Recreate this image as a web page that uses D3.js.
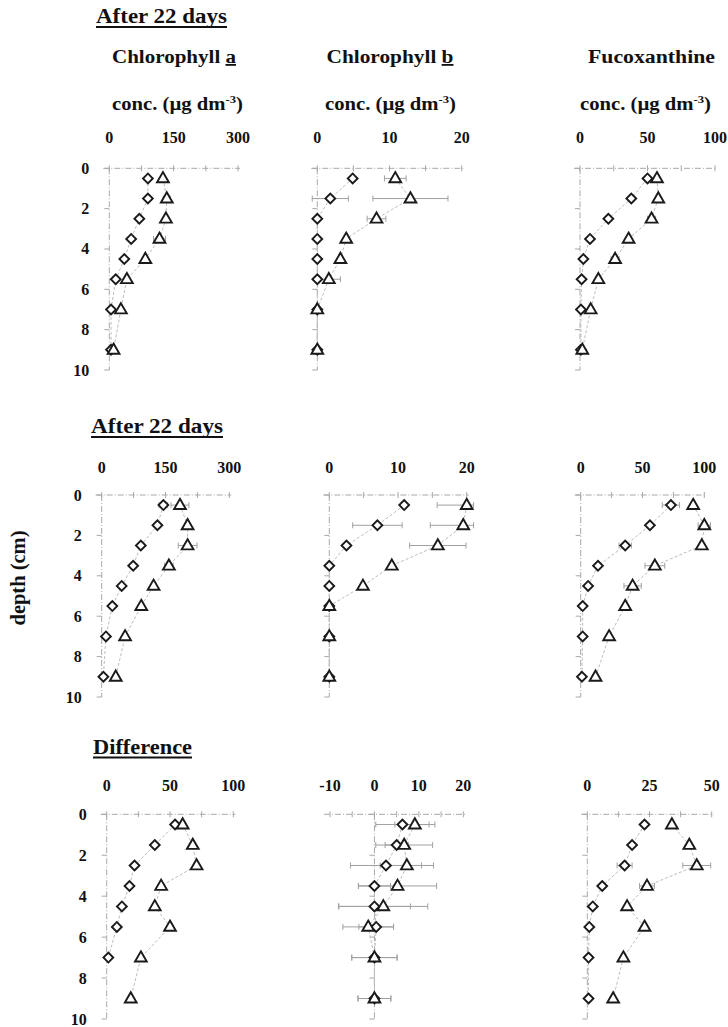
<!DOCTYPE html>
<html><head><meta charset="utf-8">
<script src="https://cdn.jsdelivr.net/npm/d3@7"></script>
<style>
html,body{margin:0;padding:0;background:#fff;}
text{font-family:"Liberation Serif","Tinos","Times New Roman",serif;font-weight:bold;fill:#111;}
</style></head>
<body><svg id="chart" width="728" height="1027"></svg>
<script>
// ---------------- DATA ----------------
const depths = [0.5, 1.5, 2.5, 3.5, 4.5, 5.5, 7, 9];
const depthTicks = [0, 2, 4, 6, 8, 10];
const rowTitles = ["After 22 days", "After 22 days", "Difference"];
const pigments = ["Chlorophyll ", "Chlorophyll ", "Fucoxanthine"];
const pigmentSuffix = ["a", "b", ""];

// Row 1
const chlA_r1_diamond  = [90, 90, 70, 51, 35, 15, 4, 4];
const chlA_r1_triangle = [125, 134, 132, 117, 84, 41, 27, 10];
const chlA_r1_errD     = [0, 0, 0, 0, 0, 0, 0, 0];
const chlA_r1_errT     = [0, 8, 0, 14, 0, 0, 0, 0];
const chlB_r1_diamond  = [4.9, 1.8, 0, 0, 0, 0, 0, 0];
const chlB_r1_triangle = [10.8, 12.9, 8.2, 4.0, 3.2, 1.6, 0, 0];
const chlB_r1_errD     = [0, 2.5, 0, 0, 0, 0, 0, 0];
const chlB_r1_errT     = [1.5, 5.2, 1.3, 0, 0, 1.6, 0, 0];
const fuco_r1_diamond  = [50, 38, 21, 7.4, 2.5, 1.2, 0.7, 0.7];
const fuco_r1_triangle = [57, 58, 53, 36, 26, 13.6, 7.9, 1.7];
const fuco_r1_errD     = [0, 0, 0, 0, 0, 0, 0, 0];
const fuco_r1_errT     = [0, 0, 3, 0, 3, 0, 0, 0];
// Row 2
const chlA_r2_diamond  = [145, 131, 92, 74, 47, 25, 10, 4];
const chlA_r2_triangle = [184, 202, 202, 158, 122, 93, 55, 33];
const chlA_r2_errD     = [10, 0, 0, 0, 0, 0, 0, 0];
const chlA_r2_errT     = [21, 0, 22, 10, 0, 0, 6, 0];
const chlB_r2_diamond  = [10.9, 7.0, 2.5, 0, 0, 0, 0, 0];
const chlB_r2_triangle = [20, 19.5, 15.8, 9.1, 4.9, 0, 0, 0];
const chlB_r2_errD     = [0, 3.6, 0, 0, 0, 0, 0, 0];
const chlB_r2_errT     = [4.3, 4.8, 4.1, 0, 0, 0, 0, 0];
const fuco_r2_diamond  = [73, 56, 36, 14, 6, 1.6, 1.6, 1];
const fuco_r2_triangle = [91, 100, 98, 60, 42, 36, 23, 12];
const fuco_r2_errD     = [7, 0, 5, 0, 0, 0, 0, 0];
const fuco_r2_errT     = [0, 5, 0, 8, 7, 0, 0, 0];
// Row 3 (difference)
const chlA_d_diamond   = [54, 38, 22, 18, 12, 8, 1.3, null];
const chlA_d_triangle  = [60, 68, 71, 43, 38, 50, 27, 19];
const chlA_d_errD      = [0, 0, 0, 0, 0, 0, 0, 0];
const chlA_d_errT      = [0, 0, 0, 0, 0, 0, 0, 0];
const chlB_d_diamond   = [6.3, 5.0, 2.6, 0, 0, 0.4, 0, 0];
const chlB_d_triangle  = [9.1, 6.7, 7.3, 5.2, 2.0, -1.4, 0, 0];
const chlB_d_errD      = [6, 2.6, 8, 3.6, 8.1, 3.9, 5.1, 3.7];
const chlB_d_errT      = [4.5, 6.4, 6, 8.8, 10, 5.7, 5.1, 3.7];
const fuco_d_diamond   = [23, 18, 15, 6, 2.2, 0.8, 0.5, 0.5];
const fuco_d_triangle  = [34, 41, 44, 24, 16, 23, 14.5, 10.4];
const fuco_d_errD      = [0, 0, 3, 0, 0, 0, 0, 0];
const fuco_d_errT      = [0, 0, 5.6, 3, 0, 0, 0, 0];

const ticksChlA = [0, 150, 300];
const ticksChlB = [0, 10, 20];
const ticksFuco = [0, 50, 100];
const ticksDiffA = [0, 50, 100];
const ticksDiffB = [-10, 0, 10, 20];
const ticksDiffF = [0, 25, 50];

// ---------------- PANELS (data + layout) ----------------
const panels = [
  {row:0, col:0, d:chlA_r1_diamond, t:chlA_r1_triangle, ed:chlA_r1_errD, et:chlA_r1_errT, ticks:ticksChlA, xr:[109.3, 238]},
  {row:0, col:1, d:chlB_r1_diamond, t:chlB_r1_triangle, ed:chlB_r1_errD, et:chlB_r1_errT, ticks:ticksChlB, xr:[317.3, 461.7]},
  {row:0, col:2, d:fuco_r1_diamond, t:fuco_r1_triangle, ed:fuco_r1_errD, et:fuco_r1_errT, ticks:ticksFuco, xr:[580, 715]},
  {row:1, col:0, d:chlA_r2_diamond, t:chlA_r2_triangle, ed:chlA_r2_errD, et:chlA_r2_errT, ticks:ticksChlA, xr:[101.7, 229.3]},
  {row:1, col:1, d:chlB_r2_diamond, t:chlB_r2_triangle, ed:chlB_r2_errD, et:chlB_r2_errT, ticks:ticksChlB, xr:[329.3, 466.7]},
  {row:1, col:2, d:fuco_r2_diamond, t:fuco_r2_triangle, ed:fuco_r2_errD, et:fuco_r2_errT, ticks:ticksFuco, xr:[580.7, 704.3]},
  {row:2, col:0, d:chlA_d_diamond, t:chlA_d_triangle, ed:chlA_d_errD, et:chlA_d_errT, ticks:ticksDiffA, xr:[106.7, 233.3]},
  {row:2, col:1, d:chlB_d_diamond, t:chlB_d_triangle, ed:chlB_d_errD, et:chlB_d_errT, ticks:ticksDiffB, xr:[330, 463.3]},
  {row:2, col:2, d:fuco_d_diamond, t:fuco_d_triangle, ed:fuco_d_errD, et:fuco_d_errT, ticks:ticksDiffF, xr:[587.3, 711.7]}
];
const rowY = [[168.3, 370], [495, 697], [814.3, 1019]];
const rowTickBase = [142.7, 472.7, 791];
const rowTitlePos = [{x:96, y:23.3, w:131}, {x:91, y:433.3, w:132}, {x:93, y:754, w:99}];

const svg = d3.select("#chart");
const axisColor = "#a8a8a8";
const errColor = "#a0a0a0";

// titles
rowTitles.forEach((t, i) => {
  const p = rowTitlePos[i];
  svg.append("text").attr("x", p.x).attr("y", p.y)
    .attr("font-size", 20).attr("textLength", p.w).attr("lengthAdjust", "spacingAndGlyphs").text(t);
  svg.append("line").attr("x1", p.x).attr("x2", p.x + p.w)
    .attr("y1", p.y + 3.6).attr("y2", p.y + 3.6).attr("stroke", "#111").attr("stroke-width", 2);
});

// column headers
const colHeadX = [174, 390, 651.5];
const colHeadW = [124, 127, 127];
const concX = [177.5, 390.5, 645.5];
pigments.forEach((p, i) => {
  const t = svg.append("text").attr("x", colHeadX[i]).attr("y", 63).attr("font-size", 18)
    .attr("text-anchor", "middle").attr("textLength", colHeadW[i]).attr("lengthAdjust", "spacingAndGlyphs");
  t.append("tspan").text(p);
  if (pigmentSuffix[i]) t.append("tspan").attr("text-decoration", "underline").text(pigmentSuffix[i]);
  const c = svg.append("text").attr("x", concX[i]).attr("y", 110).attr("font-size", 18)
    .attr("text-anchor", "middle").attr("textLength", 131).attr("lengthAdjust", "spacingAndGlyphs");
  c.append("tspan").text("conc. (µg dm");
  c.append("tspan").attr("font-size", 11).attr("dy", -7).text("-3");
  c.append("tspan").attr("dy", 7).text(")");
});

// y label
svg.append("text").attr("transform", "translate(25,578) rotate(-90)")
  .attr("text-anchor", "middle").attr("font-size", 20).attr("textLength", 95)
  .attr("lengthAdjust", "spacingAndGlyphs").text("depth (cm)");

const diamondPath = d3.symbol().type(d3.symbolSquare).size(48)();
const trianglePath = d3.symbol().type(d3.symbolTriangle).size(60)();

panels.forEach(P => {
  const ticks = P.ticks;
  const x = d3.scaleLinear().domain([ticks[0], ticks[ticks.length - 1]]).range(P.xr);
  const y = d3.scaleLinear().domain([0, 10]).range(rowY[P.row]);
  const g = svg.append("g");
  const x0 = x(0);

  // top axis line
  g.append("line").attr("x1", x.range()[0] - 6).attr("x2", x.range()[1] + 2)
    .attr("y1", y(0)).attr("y2", y(0)).attr("stroke", axisColor).attr("stroke-width", 1)
    .attr("stroke-dasharray", "6,2,1,2");
  const minor = [];
  for (let k = 0; k < ticks.length - 1; k++) minor.push((ticks[k] + ticks[k + 1]) / 2);
  g.selectAll(".tk").data(ticks.concat(minor)).enter().append("line")
    .attr("x1", d => x(d)).attr("x2", d => x(d)).attr("y1", y(0) - 3).attr("y2", y(0) + 3)
    .attr("stroke", axisColor);
  g.selectAll(".tl").data(ticks).enter().append("text")
    .attr("x", d => x(d)).attr("y", rowTickBase[P.row]).attr("text-anchor", "middle")
    .attr("font-size", 16).text(d => d);

  // left (depth) axis line at x=0
  g.append("line").attr("x1", x0).attr("x2", x0).attr("y1", y(0)).attr("y2", y(10))
    .attr("stroke", axisColor).attr("stroke-dasharray", "6,2,1,2");
  g.selectAll(".dt").data(depthTicks).enter().append("line")
    .attr("x1", x0 - 5).attr("x2", x0).attr("y1", d => y(d)).attr("y2", d => y(d))
    .attr("stroke", axisColor);
  if (P.col === 0) {
    g.selectAll(".dl").data(depthTicks).enter().append("text")
      .attr("x", x0 - 20).attr("y", d => y(d) + 5.5).attr("text-anchor", "end")
      .attr("font-size", 16).text(d => d);
  }

  // connecting lines
  [P.d, P.t].forEach(vals => {
    const line = d3.line().defined(d => d[0] !== null).x(d => x(d[0])).y(d => y(d[1]));
    g.append("path").datum(vals.map((v, i) => [v, depths[i]]))
      .attr("d", line).attr("fill", "none").attr("stroke", "#bdbdbd")
      .attr("stroke-width", 1).attr("stroke-dasharray", "3,2");
  });

  // error bars
  const [dmin, dmax] = x.domain();
  const span = dmax - dmin;
  [[P.d, P.ed], [P.t, P.et]].forEach(([vals, errs]) => {
    vals.forEach((v, i) => {
      const e = errs[i];
      if (v === null || !e) return;
      const lo = Math.max(v - e, dmin - span * 0.05), hi = Math.min(v + e, dmax + span * 0.05);
      const yy = y(depths[i]);
      g.append("line").attr("x1", x(lo)).attr("x2", x(hi)).attr("y1", yy).attr("y2", yy)
        .attr("stroke", errColor).attr("stroke-width", 1);
      [lo, hi].forEach(b => g.append("line").attr("x1", x(b)).attr("x2", x(b))
        .attr("y1", yy - 3).attr("y2", yy + 3).attr("stroke", errColor));
    });
  });

  // markers
  P.d.forEach((v, i) => {
    if (v === null) return;
    g.append("path").attr("d", diamondPath)
      .attr("transform", `translate(${x(v)},${y(depths[i])}) rotate(45)`)
      .attr("fill", "#fff").attr("stroke", "#1a1a1a").attr("stroke-width", 1.9);
  });
  P.t.forEach((v, i) => {
    if (v === null) return;
    g.append("path").attr("d", trianglePath)
      .attr("transform", `translate(${x(v)},${y(depths[i]) + 0.5})`)
      .attr("fill", "#fff").attr("stroke", "#1a1a1a").attr("stroke-width", 1.9);
  });
});
</script></body></html>
